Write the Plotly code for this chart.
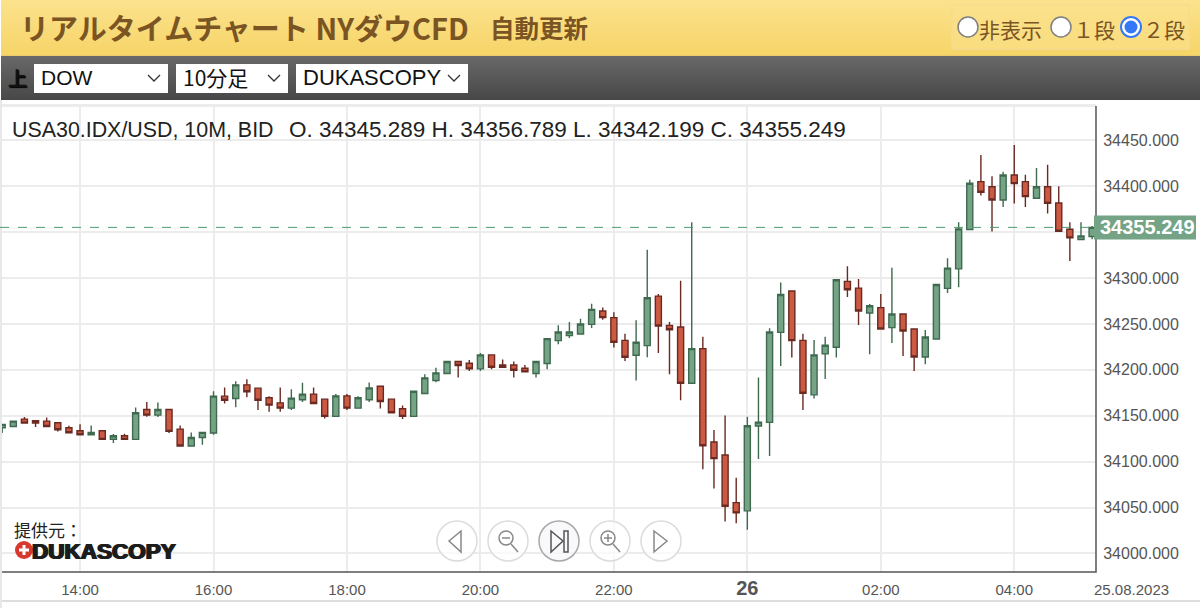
import pandas as pd
import plotly.graph_objects as go

W, H = 1200, 608

# candles, 10 minute bars
times = pd.date_range("2023-08-25 12:50", periods=99, freq="10min")
open_ = [34137.0, 34138.4, 34146.4, 34144.6, 34144.2, 34142.4, 34137.0, 34133.7, 34129.3, 34133.7,
         34124.3, 34128.3, 34124.3, 34156.9, 34150.7, 34156.9, 34135.5, 34117.0, 34126.4, 34131.2,
         34171.4, 34168.8, 34183.7, 34180.1, 34169.6, 34164.1, 34158.3, 34167.4, 34173.6, 34168.1,
         34149.3, 34171.7, 34158.3, 34167.4, 34182.2, 34168.1, 34157.6, 34149.3, 34174.3, 34188.4,
         34196.0, 34209.1, 34207.2, 34201.1, 34216.3, 34205.4, 34205.4, 34201.8, 34196.0, 34206.9,
         34231.9, 34237.3, 34239.1, 34249.6, 34264.1, 34256.9, 34232.2, 34215.9, 34226.4, 34280.4,
         34248.5, 34246.7, 34185.5, 34223.2, 34121.4, 34107.3, 34055.4, 34046.4, 34138.8, 34142.8,
         34240.9, 34285.9, 34232.2, 34172.8, 34217.4, 34224.6, 34296.4, 34289.1, 34262.0, 34267.8,
         34246.0, 34260.9, 34244.6, 34214.1, 34233.7, 34288.8, 34310.1, 34352.9, 34405.1, 34399.6,
         34385.1, 34412.3, 34405.1, 34387.0, 34399.6, 34381.9, 34353.3, 34342.0, 34345.289]
high = [34140.9, 34144.2, 34148.6, 34144.6, 34148.2, 34142.4, 34139.1, 34140.9, 34139.5, 34133.7,
        34130.1, 34130.4, 34159.1, 34164.9, 34164.5, 34156.9, 34139.5, 34131.9, 34131.9, 34176.8,
        34180.8, 34187.7, 34189.9, 34180.1, 34171.4, 34180.8, 34179.0, 34185.9, 34180.8, 34168.1,
        34173.6, 34173.6, 34171.4, 34186.2, 34182.2, 34168.1, 34161.2, 34176.8, 34195.3, 34202.2,
        34209.1, 34209.1, 34210.9, 34218.5, 34216.3, 34211.2, 34209.1, 34205.4, 34209.1, 34234.1,
        34248.5, 34252.2, 34255.8, 34272.1, 34268.1, 34262.7, 34239.5, 34254.0, 34330.8, 34282.6,
        34252.2, 34297.1, 34360.9, 34236.2, 34134.4, 34150.4, 34082.6, 34148.9, 34191.7, 34245.3,
        34295.3, 34285.9, 34239.5, 34232.6, 34236.2, 34298.2, 34313.0, 34298.9, 34271.7, 34282.6,
        34311.2, 34260.9, 34244.6, 34243.5, 34293.1, 34321.7, 34360.9, 34407.2, 34434.1, 34410.9,
        34415.9, 34444.9, 34412.7, 34419.9, 34423.5, 34400.0, 34360.9, 34360.9, 34356.789]
low = [34131.2, 34138.4, 34142.0, 34137.7, 34138.4, 34133.0, 34131.5, 34129.3, 34129.3, 34124.3,
       34120.3, 34124.3, 34124.3, 34148.9, 34148.6, 34131.2, 34117.0, 34117.0, 34118.5, 34129.3,
       34163.4, 34159.4, 34170.3, 34156.2, 34154.3, 34154.3, 34156.2, 34164.9, 34163.4, 34147.1,
       34149.3, 34156.2, 34158.3, 34164.9, 34158.0, 34152.5, 34146.4, 34149.3, 34174.3, 34186.6,
       34196.0, 34191.7, 34198.9, 34198.9, 34200.7, 34202.9, 34191.7, 34197.8, 34191.7, 34200.7,
       34227.9, 34234.8, 34239.1, 34245.6, 34254.7, 34224.3, 34209.8, 34188.4, 34213.8, 34218.5,
       34195.3, 34167.0, 34185.5, 34091.7, 34070.7, 34034.8, 34033.0, 34025.7, 34102.9, 34106.2,
       34204.3, 34213.4, 34156.2, 34168.8, 34190.2, 34213.4, 34279.3, 34248.9, 34217.0, 34244.6,
       34229.3, 34215.2, 34198.9, 34206.2, 34233.7, 34283.7, 34289.9, 34352.9, 34389.9, 34350.7,
       34377.5, 34381.2, 34377.5, 34387.0, 34370.3, 34351.1, 34318.5, 34342.0, 34342.199]
close = [34140.6, 34144.2, 34142.0, 34142.0, 34138.4, 34134.8, 34131.5, 34129.3, 34131.9, 34124.3,
         34128.3, 34124.3, 34153.3, 34150.7, 34156.9, 34133.0, 34117.0, 34126.4, 34131.9, 34171.4,
         34167.0, 34183.7, 34176.1, 34167.0, 34161.6, 34158.3, 34169.2, 34173.6, 34163.4, 34149.3,
         34171.7, 34158.3, 34169.6, 34180.4, 34165.6, 34153.3, 34149.3, 34176.8, 34191.3, 34196.7,
         34209.1, 34204.7, 34201.1, 34216.3, 34202.9, 34202.9, 34199.6, 34197.8, 34209.1, 34234.1,
         34241.3, 34241.3, 34250.0, 34265.9, 34256.9, 34230.1, 34213.8, 34230.1, 34278.6, 34247.8,
         34243.8, 34185.5, 34223.2, 34117.4, 34103.3, 34051.5, 34044.2, 34139.1, 34143.1, 34241.3,
         34282.2, 34231.9, 34174.6, 34216.3, 34226.8, 34298.2, 34287.3, 34264.1, 34269.9, 34244.6,
         34260.9, 34242.4, 34214.1, 34235.9, 34293.1, 34310.9, 34353.6, 34403.3, 34393.5, 34385.1,
         34412.3, 34402.9, 34388.8, 34399.6, 34381.5, 34351.1, 34343.8, 34346.0, 34355.249]

y_ticks = [34000, 34050, 34100, 34150, 34200, 34250, 34300, 34350, 34400, 34450]
# 34350 sits under the price tag in the reference, so no label there
y_labels = ["34000.000", "34050.000", "34100.000", "34150.000", "34200.000", "34250.000", "34300.000",
            "", "34400.000", "34450.000"]
x_ticks = ["2023-08-25 14:00", "2023-08-25 16:00", "2023-08-25 18:00", "2023-08-25 20:00",
           "2023-08-25 22:00", "2023-08-26 00:00", "2023-08-26 02:00", "2023-08-26 04:00"]
x_labels = ["14:00", "16:00", "18:00", "20:00", "22:00",
            '<span style="font-size:20px"><b>26</b></span>', "02:00", "04:00"]
symbol_title = "USA30.IDX/USD, 10M, BID"
ohlc_title = "O. {:.3f} H. {:.3f} L. {:.3f} C. {:.3f}".format(open_[-1], high[-1], low[-1], close[-1])

JP = "Noto Sans CJK JP"
SANS = "Liberation Sans"
BROWN = "#7a5423"


def px(x):
    return x / W


def py(y):
    return 1 - y / H


def rect(x0, y0, x1, y1, fill, line=None, width=1, layer="above"):
    return dict(type="rect", xref="paper", yref="paper", x0=px(x0), x1=px(x1), y0=py(y0), y1=py(y1),
                fillcolor=fill, line=dict(color=line or fill, width=width if line else 0), layer=layer)


def circle(cx, cy, r, fill, line, width=1.5):
    return dict(type="circle", xref="paper", yref="paper", x0=px(cx - r), x1=px(cx + r),
                y0=py(cy - r), y1=py(cy + r), fillcolor=fill, line=dict(color=line, width=width))


def poly(points, color, width=1.5, closed=False):
    d = "M" + " L".join("{:.5f},{:.5f}".format(px(a), py(b)) for a, b in points)
    if closed:
        d += " Z"
    return dict(type="path", xref="paper", yref="paper", path=d, line=dict(color=color, width=width))


def text(x, y, s, size, color="#222", font=SANS, anchor="left", shadow=None):
    # annotations sit about 2.5px right of x because of their padding
    f = dict(family=font, size=size, color=color)
    if shadow:
        f["shadow"] = shadow
    return dict(xref="paper", yref="paper", x=px(x - 2.5 if anchor == "left" else x), y=py(y), text=s,
                showarrow=False, xanchor=anchor, yanchor="middle", font=f)


def blend(a, b, t):
    return "rgb({},{},{})".format(*[round(a[i] + (b[i] - a[i]) * t) for i in range(3)])


shapes = []
# title bar and the dark bar under it, stepped gradient
for i in range(28):
    shapes.append(rect(1, i * 2, W, i * 2 + 2, blend((251, 226, 140), (246, 212, 104), i / 27)))
shapes.append(rect(1, 55, W, 56, "#eccb6c"))
for i in range(22):
    shapes.append(rect(1, 56 + i * 2, W, 58 + i * 2, blend((104, 104, 104), (72, 72, 72), i / 21)))

# radio box
shapes.append(rect(952, 5, 1189, 49, "rgba(250,225,140,0.6)", "#f8dc90", 1.5))
shapes.append(circle(968, 27, 10, "white", "#7f7f7f"))
shapes.append(circle(1061, 27, 10, "white", "#7f7f7f"))
shapes.append(circle(1131, 27, 10, "white", "#3478f6", 2))
shapes.append(circle(1131, 27, 6.5, "#3478f6", "#3478f6", 0))

# dropdowns
for x0, x1 in [(34, 168), (176, 288), (296, 468)]:
    shapes.append(rect(x0, 64, x1, 93, "white"))
    shapes.append(poly([(x1 - 20, 75), (x1 - 14, 81), (x1 - 8, 75)], "#333", 1.3))

# chart frame
shapes.append(rect(2, 104, 1096, 107, "#ececec", layer="below"))
shapes.append(rect(0, 600, W, 602, "#dddddd", layer="below"))
shapes.append(rect(0, 100, 2, 608, "#e8e8e8", layer="below"))
shapes.append(poly([(2, 572), (1096, 572), (1096, 106)], "#555", 1.5))

# last price line and tag
shapes.append(dict(type="line", xref="paper", yref="y", x0=0, x1=px(1094), y0=close[-1], y1=close[-1],
                   line=dict(color="#4f9a70", width=1, dash="dash")))
shapes.append(dict(type="rect", xref="paper", yref="y", ysizemode="pixel", yanchor=close[-1],
                   x0=px(1094), x1=px(1196), y0=-12, y1=12, fillcolor="#74a485", line=dict(width=0)))

# nav buttons
for cx in [457, 508, 610, 661]:
    shapes.append(circle(cx, 541, 20, "rgba(255,255,255,0.7)", "#dcdcdc"))
shapes.append(circle(559, 541, 20, "rgba(248,248,250,0.8)", "#a8a8a8"))
shapes.append(poly([(461, 531), (449, 541), (461, 552)], "#888", 1.5, True))
shapes.append(poly([(654, 531), (667, 541), (654, 552)], "#888", 1.5, True))
shapes.append(circle(506, 538, 7, "rgba(0,0,0,0)", "#888"))
shapes.append(poly([(511, 544), (518, 552)], "#888"))
shapes.append(poly([(502, 538), (510, 538)], "#888"))
shapes.append(circle(608, 538, 7, "rgba(0,0,0,0)", "#888"))
shapes.append(poly([(613, 544), (620, 552)], "#888"))
shapes.append(poly([(604, 538), (612, 538), (608, 538), (608, 534), (608, 542)], "#888"))
shapes.append(poly([(551, 531), (563, 541), (551, 552)], "#555", 1.5, True))
shapes.append(rect(564, 531, 568, 552, "rgba(0,0,0,0)", "#555", 1.5))

# logo mark
shapes.append(circle(24, 550, 9, "#d8392f", "#d8392f", 0))
shapes.append(rect(19, 548.5, 29, 551.5, "white"))
shapes.append(rect(22.5, 545, 25.5, 555, "white"))

heavy = "1px 0 0 #1c1c1c, -1px 0 0 #1c1c1c"
annotations = [
    text(20, 27, "<b>リアルタイムチャート NYダウCFD</b>", 29, BROWN, JP),
    text(490, 28, "<b>自動更新</b>", 24.5, BROWN, JP),
    text(979, 29, "非表示", 21, BROWN, JP),
    text(1073, 29, "１段", 21, BROWN, JP),
    text(1143, 29, "２段", 21, BROWN, JP),
    text(8, 78, "<b>上</b>", 19, "#111", JP, shadow="1px 1px 1px #000"),
    text(41, 78, "DOW", 21, "#111"),
    text(183, 77, "10分足", 21, "#111", JP),
    text(303, 78, "DUKASCOPY", 22, "#111"),
    text(12, 130, symbol_title, 21.4, "#222"),
    text(289, 130, ohlc_title, 22.5, "#222"),
    text(14, 529, "提供元：", 17, "#222", JP),
    text(32, 551, "<b>DUKASCOPY</b>", 22.5, "#1c1c1c", shadow=heavy),
    text(1131, 589, "25.08.2023", 15, "#555", SANS, "center"),
    dict(xref="paper", yref="y", x=px(1147), y=close[-1], text="<b>{:.3f}</b>".format(close[-1]),
         showarrow=False, xanchor="center", font=dict(family=SANS, size=20, color="white")),
]

fig = go.Figure()
fig.add_trace(go.Candlestick(
    x=times, open=open_, high=high, low=low, close=close,
    increasing=dict(fillcolor="#74a485", line=dict(color="#3f6a50", width=1.4)),
    decreasing=dict(fillcolor="#cc5a43", line=dict(color="#6a2a22", width=1.4)),
    whiskerwidth=0, showlegend=False))

fig.update_layout(
    width=W, height=H, margin=dict(l=0, r=0, t=0, b=0),
    paper_bgcolor="white", plot_bgcolor="white", showlegend=False, boxgap=0.22,
    shapes=shapes, annotations=annotations,
    xaxis=dict(domain=[px(2), px(1096)], range=["2023-08-25 12:49:50", "2023-08-26 05:13:30"],
               rangeslider=dict(visible=False), tickvals=x_ticks, ticktext=x_labels,
               showgrid=True, gridcolor="#ececec", gridwidth=2, zeroline=False, showline=False,
               ticks="outside", ticklen=4, tickcolor="rgba(0,0,0,0)",
               tickfont=dict(family=SANS, size=15, color="#555")),
    yaxis=dict(domain=[py(572), py(106)], range=[33979.8, 34487.5], side="right", tickvals=y_ticks,
               ticktext=y_labels, showgrid=True, gridcolor="#ececec", gridwidth=2, zeroline=False,
               showline=False, ticks="outside", ticklen=3, tickcolor="rgba(0,0,0,0)",
               tickfont=dict(family=SANS, size=16, color="#555")),
)

fig.write_html("out.html", config=dict(displayModeBar=False),
               post_script="document.body.style.margin='0';document.body.style.overflow='hidden';")
